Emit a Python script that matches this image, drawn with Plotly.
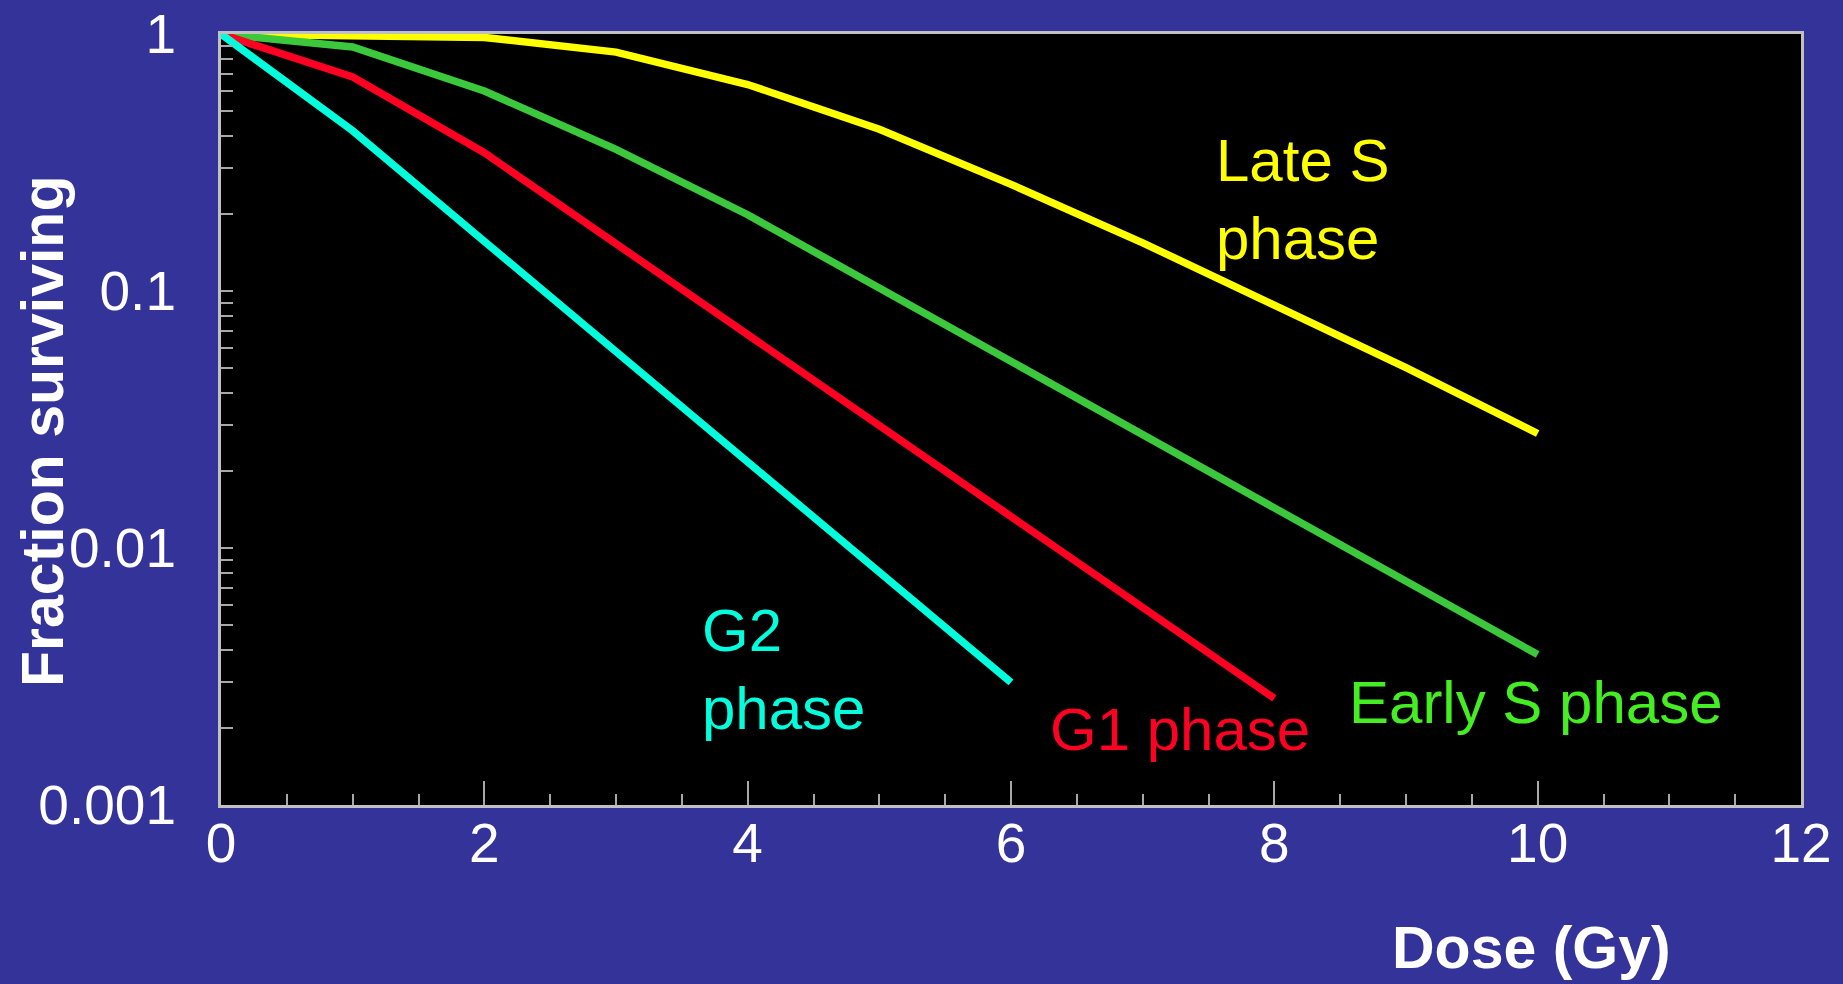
import plotly.graph_objects as go

# Cell survival after irradiation at different cell-cycle phases
dose_g2 = [0, 1, 2, 3, 4, 5, 6]
surv_g2 = [1.0, 0.42, 0.156, 0.058, 0.0216, 0.0081, 0.0030]

dose_g1 = [0, 1, 2, 3, 4, 5, 6, 7, 8]
surv_g1 = [1.0, 0.68, 0.345, 0.153, 0.0675, 0.0298, 0.0132, 0.0058, 0.0026]

dose_early_s = [0, 1, 2, 3, 4, 5, 6, 7, 8, 9, 10]
surv_early_s = [1.0, 0.89, 0.60, 0.356, 0.198, 0.103, 0.053, 0.0276, 0.0143, 0.0075, 0.00385]

dose_late_s = [0, 1, 2, 3, 4, 5, 6, 7, 8, 9, 10]
surv_late_s = [1.0, 0.99, 0.97, 0.85, 0.636, 0.426, 0.26, 0.154, 0.0888, 0.0503, 0.0279]

x_tick_vals = [0, 2, 4, 6, 8, 10, 12]
y_tick_vals = [0.001, 0.01, 0.1, 1]
y_tick_text = ["0.001", "0.01", "0.1", "1"]
y_minor_vals = [m * 10 ** e for e in (-3, -2, -1) for m in range(2, 10)]

W, H = 1843, 984
L, R, T, B = 221, 42, 34, 179
FONT = "Arial, Liberation Sans, sans-serif"
BG = "#333399"

CYAN = "#00ffdd"
RED = "#ff0022"
GREEN = "#3cc83c"
GREEN_TXT = "#44ee22"
YELLOW = "#ffff00"


def px(xp, yp):
    """Pixel position on the page -> paper coordinates."""
    return (xp - L) / (W - L - R), 1 - (yp - T) / (H - T - B)


fig = go.Figure()
for xs, ys, col in [
    (dose_late_s, surv_late_s, YELLOW),
    (dose_early_s, surv_early_s, GREEN),
    (dose_g1, surv_g1, RED),
    (dose_g2, surv_g2, CYAN),
]:
    fig.add_trace(go.Scatter(x=xs, y=ys, mode="lines", cliponaxis=False,
                             line=dict(color=col, width=7.5), hoverinfo="skip"))

labels = [
    ("Late S<br>phase", 1214, 199, YELLOW),
    ("G2<br>phase", 700, 669, CYAN),
    ("G1 phase", 1048, 729, RED),
    ("Early S phase", 1347, 702, GREEN_TXT),
]
for text, xp, yp, col in labels:
    ax, ay = px(xp, yp)
    fig.add_annotation(x=ax, y=ay, xref="paper", yref="paper", text=text,
                       showarrow=False, xanchor="left", yanchor="middle", align="left",
                       font=dict(family=FONT, size=60, color=col))

# axis titles
tx, ty = px(1531, 948)
fig.add_annotation(x=tx, y=ty, xref="paper", yref="paper", text="<b>Dose (Gy)</b>",
                   showarrow=False, xanchor="center", yanchor="middle",
                   font=dict(family=FONT, size=59, color="white"))
tx, ty = px(43, 432)
fig.add_annotation(x=tx, y=ty, xref="paper", yref="paper", text="<b>Fraction surviving</b>",
                   showarrow=False, xanchor="center", yanchor="middle", textangle=-90,
                   font=dict(family=FONT, size=59, color="white"))

axis_common = dict(
    showgrid=False, zeroline=False, showline=True, linecolor="#c0c0c0", linewidth=3,
    mirror=True, ticks="inside", tickcolor="#a8a8a8", tickwidth=2,
    tickfont=dict(family=FONT, size=55, color="white"),
)

fig.update_xaxes(
    range=[0, 12], tickmode="array", tickvals=x_tick_vals, ticklen=24,
    ticklabelstandoff=-12,
    minor=dict(dtick=0.5, ticks="inside", ticklen=11, tickcolor="#a8a8a8", tickwidth=2),
    **axis_common,
)
fig.update_yaxes(
    type="log", range=[-3, 0], tickmode="array", tickvals=y_tick_vals,
    ticktext=y_tick_text, ticklen=12, ticklabelstandoff=31,
    minor=dict(tickmode="array", tickvals=y_minor_vals, ticks="inside", ticklen=12,
               tickcolor="#a8a8a8", tickwidth=2),
    **axis_common,
)

fig.update_layout(
    width=W, height=H, margin=dict(l=L, r=R, t=T, b=B, autoexpand=False),
    paper_bgcolor=BG, plot_bgcolor="black", showlegend=False,
)

fig.write_html("out.html")
